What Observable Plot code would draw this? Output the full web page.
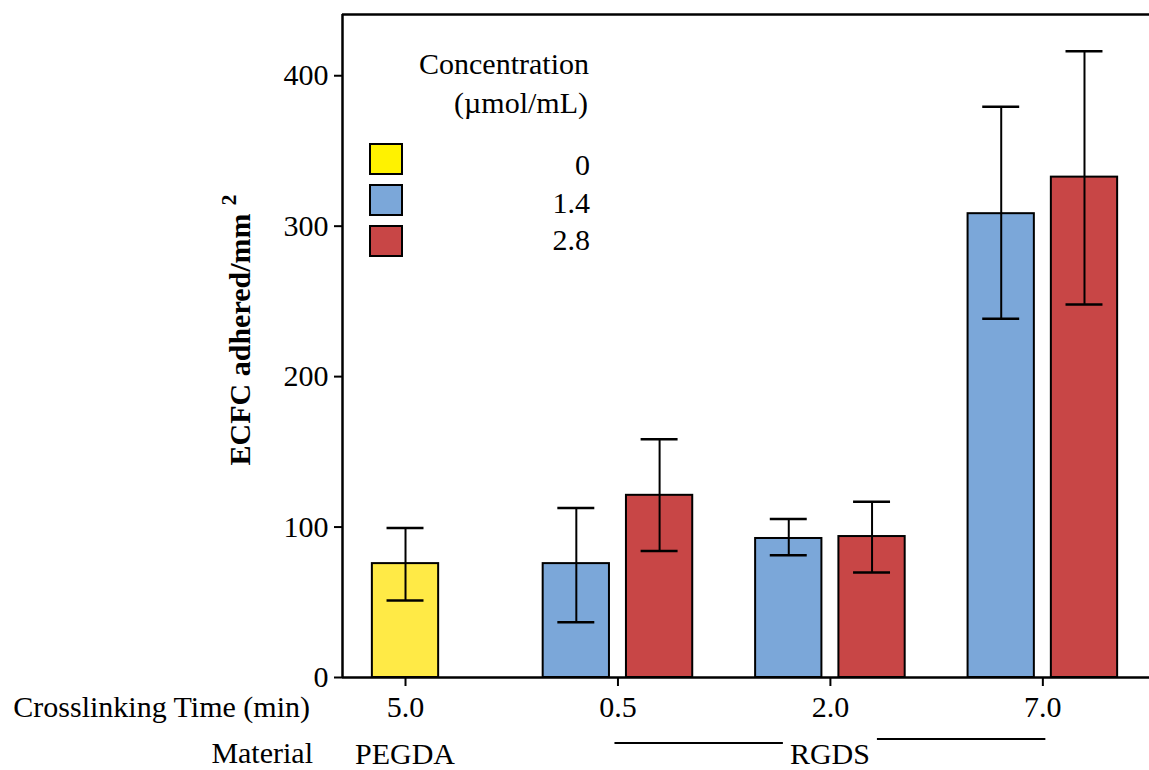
<!DOCTYPE html>
<html><head><meta charset="utf-8">
<script src="https://cdn.jsdelivr.net/npm/d3@7"></script>
<script src="https://cdn.jsdelivr.net/npm/@observablehq/plot@0.6"></script>
<style>
body{margin:0;background:#fff;}
#chart svg{display:block;}
</style></head><body><div id="chart"></div>
<script>
// ---- data ----
const times = ["5.0","0.5","2.0","7.0"];
const materials = ["PEGDA","RGDS","RGDS","RGDS"];
const concentrations = ["0","1.4","2.8"];
const barColors = ["#ffea46","#7ba7d9","#c84646"];
const legendColors = ["#fff200","#7ba7d9","#c84646"];
const barTime = ["5.0","0.5","0.5","2.0","2.0","7.0","7.0"];
const barConc = ["0","1.4","2.8","1.4","2.8","1.4","2.8"];
const means = [75.7,75.7,121.1,92.4,93.7,308.3,332.6];
const lows  = [51.2,36.7,84.1,81.3,69.8,238.5,248.0];
const highs = [99.4,112.7,158.3,105.4,116.9,379.4,416.3];
const yTicks = [0,100,200,300,400];
const xLabel = "Crosslinking Time (min)";
const materialLabel = "Material";
const yLabel = "ECFC adhered/mm";
const yLabelSup = "2";
const legendTitle = ["Concentration","(\u00b5mol/mL)"];

// ---- layout ----
const W = 1149, H = 770;
const xDomain = [-0.2966, 3.502];
const yMax = 440.7;
const offset = 0.196, half = 0.156, cap = 0.087;
const FONT = "'Liberation Serif','Times New Roman',serif";

const data = barTime.map((t, i) => {
  const g = times.indexOf(t);
  const members = barTime.map((tt, j) => tt === t ? j : -1).filter(j => j >= 0);
  const k = members.indexOf(i), n = members.length;
  const x = g + (k - (n - 1) / 2) * 2 * offset;
  return {time: t, conc: barConc[i], mean: means[i], low: lows[i], high: highs[i],
          x, x1: x - half, x2: x + half, c1: x - cap, c2: x + cap};
});

const plot = Plot.plot({
  width: W, height: H,
  marginLeft: 342, marginRight: 0, marginTop: 14, marginBottom: 93,
  style: {fontFamily: FONT, fontSize: "30px", background: "#fff", color: "#000", overflow: "visible"},
  x: {domain: xDomain},
  y: {domain: [0, yMax]},
  color: {domain: concentrations, range: barColors},
  marks: [
    Plot.rectY(data, {x1: "x1", x2: "x2", y1: 0, y2: "mean", fill: "conc", stroke: "#000", strokeWidth: 2}),
    Plot.ruleX(data, {x: "x", y1: "low", y2: "high", stroke: "#000", strokeWidth: 2}),
    Plot.ruleY(data, {y: "low", x1: "c1", x2: "c2", stroke: "#000", strokeWidth: 2.5}),
    Plot.ruleY(data, {y: "high", x1: "c1", x2: "c2", stroke: "#000", strokeWidth: 2.5}),
    Plot.axisY({ticks: yTicks, tickSize: 8, tickPadding: 6, label: null, strokeWidth: 2, fontSize: 30}),
    Plot.axisX({ticks: [0,1,2,3], tickFormat: i => times[i], tickSize: 9, tickPadding: 9, label: null, strokeWidth: 2, fontSize: 30}),
    Plot.ruleY([0], {stroke: "#000", strokeWidth: 2.5}),
    Plot.ruleY([yMax], {stroke: "#000", strokeWidth: 2.5}),
    Plot.ruleX([xDomain[0]], {stroke: "#000", strokeWidth: 2.5})
  ]
});
document.getElementById("chart").appendChild(plot);

const svg = d3.select(plot);
const xs = plot.scale("x"), ys = plot.scale("y");
const X = v => xs.apply(v);

// y label
const yl = svg.append("text")
  .attr("transform", "translate(250,330) rotate(-90)")
  .attr("text-anchor", "middle")
  .attr("font-family", FONT).attr("font-size", 30).attr("font-weight", "bold").attr("fill", "#000");
yl.append("tspan").text(yLabel);
yl.append("tspan").attr("dx", 8).attr("dy", -14).attr("font-size", 22).text(yLabelSup);

// legend
const lg = svg.append("g").attr("font-family", FONT).attr("font-size", 30).attr("fill", "#000");
lg.append("text").attr("x", 589).attr("y", 74).attr("text-anchor", "end").text(legendTitle[0]);
lg.append("text").attr("x", 588).attr("y", 113).attr("text-anchor", "end").text(legendTitle[1]);
concentrations.forEach((c, i) => {
  lg.append("rect").attr("x", 370).attr("y", 144 + i * 41).attr("width", 32).attr("height", 30)
    .attr("fill", legendColors[i]).attr("stroke", "#000").attr("stroke-width", 2);
  lg.append("text").attr("x", 590).attr("y", 175 + i * 37.5).attr("text-anchor", "end").text(c);
});

// bottom annotations
const bt = svg.append("g").attr("font-family", FONT).attr("font-size", 30).attr("fill", "#000");
bt.append("text").attr("x", 310).attr("y", 717).attr("text-anchor", "end").text(xLabel);
bt.append("text").attr("x", 313).attr("y", 763).attr("text-anchor", "end").text(materialLabel);
const uniqMat = Array.from(new Set(materials));
uniqMat.forEach(m => {
  const idx = materials.map((mm, i) => mm === m ? i : -1).filter(i => i >= 0);
  const cx = X(d3.mean(idx));
  const t = bt.append("text").attr("x", cx).attr("y", 764).attr("text-anchor", "middle").text(m);
  if (idx.length > 1) {
    const w = t.node().getComputedTextLength();
    bt.append("line").attr("x1", X(idx[0]) - 3).attr("x2", cx - w / 2 - 7).attr("y1", 743).attr("y2", 743)
      .attr("stroke", "#000").attr("stroke-width", 2);
    bt.append("line").attr("x1", cx + w / 2 + 7).attr("x2", X(idx[idx.length - 1]) + 3).attr("y1", 739).attr("y2", 739)
      .attr("stroke", "#000").attr("stroke-width", 2);
  }
});
</script>
</body></html>
